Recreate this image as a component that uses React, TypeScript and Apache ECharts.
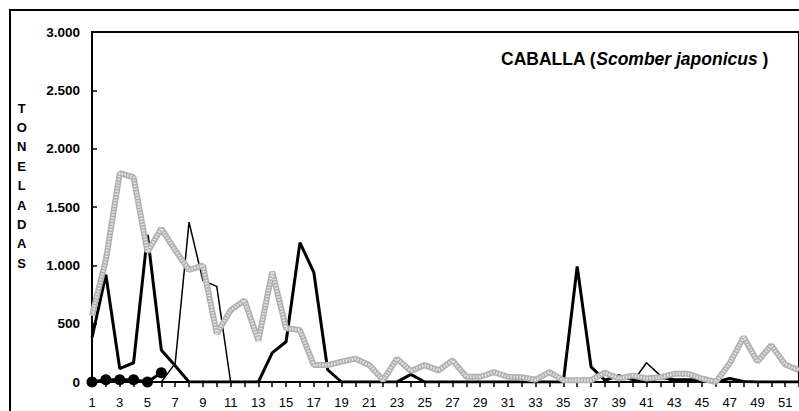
import React, { useEffect, useRef } from "react";
import * as echarts from "echarts";

const weeks = [
  "1", "2", "3", "4", "5", "6", "7", "8", "9", "10", "11", "12", "13",
  "14", "15", "16", "17", "18", "19", "20", "21", "22", "23", "24", "25", "26",
  "27", "28", "29", "30", "31", "32", "33", "34", "35", "36", "37", "38", "39",
  "40", "41", "42", "43", "44", "45", "46", "47", "48", "49", "50", "51", "52",
];

const thickSeries = [
  380, 920, 115, 165, 1260, 275, 140, 0, 0, 0, 0, 0, 0,
  250, 345, 1195, 940, 105, 0, 0, 0, 0, 0, 65, 0, 0,
  0, 0, 0, 0, 0, 0, 0, 0, 0, 990, 130, 15, 55,
  20, 0, 40, 20, 20, 20, 0, 30, 5, 0, 0, 0, 0,
];

const thinSeries = [
  null, null, null, null, null, 0, 160, 1370, 870, 820, 0, 0, 0,
  0, 0, 0, 0, 0, 0, 0, 0, 0, 0, 0, 0, 0,
  0, 0, 0, 0, 0, 0, 0, 0, 0, 0, 0, 0, 0,
  0, 165, 55, 0, 0, 0, 0, 0, 0, 0, 0, 0, 0,
];

const greySeries = [
  570, 1045, 1790, 1755, 1115, 1315, 1130, 960, 1000, 415, 615, 700, 355,
  945, 460, 445, 145, 145, 175, 200, 145, 15, 200, 95, 145, 100,
  185, 45, 45, 85, 45, 40, 20, 85, 15, 15, 15, 80, 30,
  55, 30, 40, 70, 70, 30, 0, 160, 385, 175, 315, 150, 100,
];

const markerSeries = [
  0, 20, 20, 20, 0, 80, null, null, null, null, null, null, null,
  null, null, null, null, null, null, null, null, null, null, null, null, null,
  null, null, null, null, null, null, null, null, null, null, null, null, null,
  null, null, null, null, null, null, null, null, null, null, null, null, null,
];

const yTicks = { min: 0, max: 3000, step: 500 };

const FONT = "'Liberation Sans', Arial, sans-serif";

function fmt(v: number): string {
  if (v < 1000) return String(v);
  const th = Math.floor(v / 1000);
  const rest = String(v % 1000).padStart(3, "0");
  return th + "." + rest;
}

export default function App() {
  const ref = useRef<HTMLDivElement>(null);
  useEffect(() => {
    if (!ref.current) return;
    const chart = echarts.init(ref.current, undefined, { renderer: "svg" });
    chart.setOption({
      animation: false,
      backgroundColor: "#fff",
      grid: {
        left: 92,
        top: 32,
        width: 721,
        height: 350,
        show: true,
        borderColor: "#000",
        borderWidth: 2,
        backgroundColor: "transparent",
      },
      xAxis: {
        type: "category",
        data: weeks,
        boundaryGap: false,
        axisLine: { show: true, lineStyle: { color: "#000", width: 2 } },
        axisTick: {
          show: true,
          interval: 0,
          inside: false,
          length: 5,
          lineStyle: { color: "#000", width: 1.5 },
        },
        axisLabel: {
          interval: 1,
          color: "#000",
          fontSize: 13,
          fontFamily: FONT,
          margin: 14,
        },
        splitLine: { show: false },
      },
      yAxis: {
        type: "value",
        min: yTicks.min,
        max: yTicks.max,
        interval: yTicks.step,
        axisLine: { show: true, lineStyle: { color: "#000", width: 2 } },
        axisTick: {
          show: true,
          inside: true,
          length: 5,
          lineStyle: { color: "#000", width: 1.5 },
        },
        axisLabel: {
          color: "#000",
          fontSize: 13.5,
          fontWeight: "bold",
          fontFamily: FONT,
          margin: 12,
          formatter: (v: number) => fmt(v),
        },
        splitLine: { show: false },
      },
      graphic: [
        {
          type: "rect",
          shape: { x: 10, y: 10, width: 1000, height: 1000 },
          style: { fill: "none", stroke: "#000", lineWidth: 2 },
          silent: true,
          z: 0,
        },
        {
          type: "text",
          x: 21.7,
          y: 185.7,
          style: {
            text: "T\nO\nN\nE\nL\nA\nD\nA\nS",
            fontFamily: FONT,
            fontSize: 13,
            fontWeight: "bold",
            lineHeight: 19.4,
            fill: "#000",
            align: "center",
            verticalAlign: "middle",
          },
        },
        {
          type: "text",
          x: 501,
          y: 59,
          style: {
            text: "{a|CABALLA (}{b|Scomber japonicus}{a| )}",
            verticalAlign: "middle",
            align: "left",
            rich: {
              a: { fontFamily: FONT, fontSize: 17.5, fontWeight: "bold", fill: "#000" },
              b: {
                fontFamily: FONT,
                fontSize: 17.5,
                fontWeight: "bold",
                fontStyle: "italic",
                fill: "#000",
              },
            },
          },
        },
      ],
      series: [
        {
          type: "line",
          data: thinSeries,
          symbol: "none",
          lineStyle: { color: "#000", width: 1.5 },
          z: 2,
        },
        {
          type: "line",
          data: thickSeries,
          symbol: "none",
          lineStyle: { color: "#000", width: 3 },
          z: 3,
        },
        {
          type: "line",
          data: greySeries,
          symbol: "none",
          lineStyle: { color: "#b0b0b0", width: 6 },
          z: 4,
        },
        {
          type: "line",
          data: greySeries,
          symbol: "none",
          lineStyle: { color: "#e2e2e2", width: 3, type: [1.5, 1.5] },
          z: 5,
        },
        {
          type: "line",
          data: markerSeries,
          symbol: "circle",
          symbolSize: 11,
          showSymbol: true,
          showAllSymbol: true,
          itemStyle: { color: "#000" },
          lineStyle: { color: "#000", width: 3 },
          z: 6,
        },
      ],
    });
    return () => chart.dispose();
  }, []);
  return (
    <div
      ref={ref}
      style={{ position: "fixed", left: 0, top: 0, width: 799, height: 411 }}
    />
  );
}
